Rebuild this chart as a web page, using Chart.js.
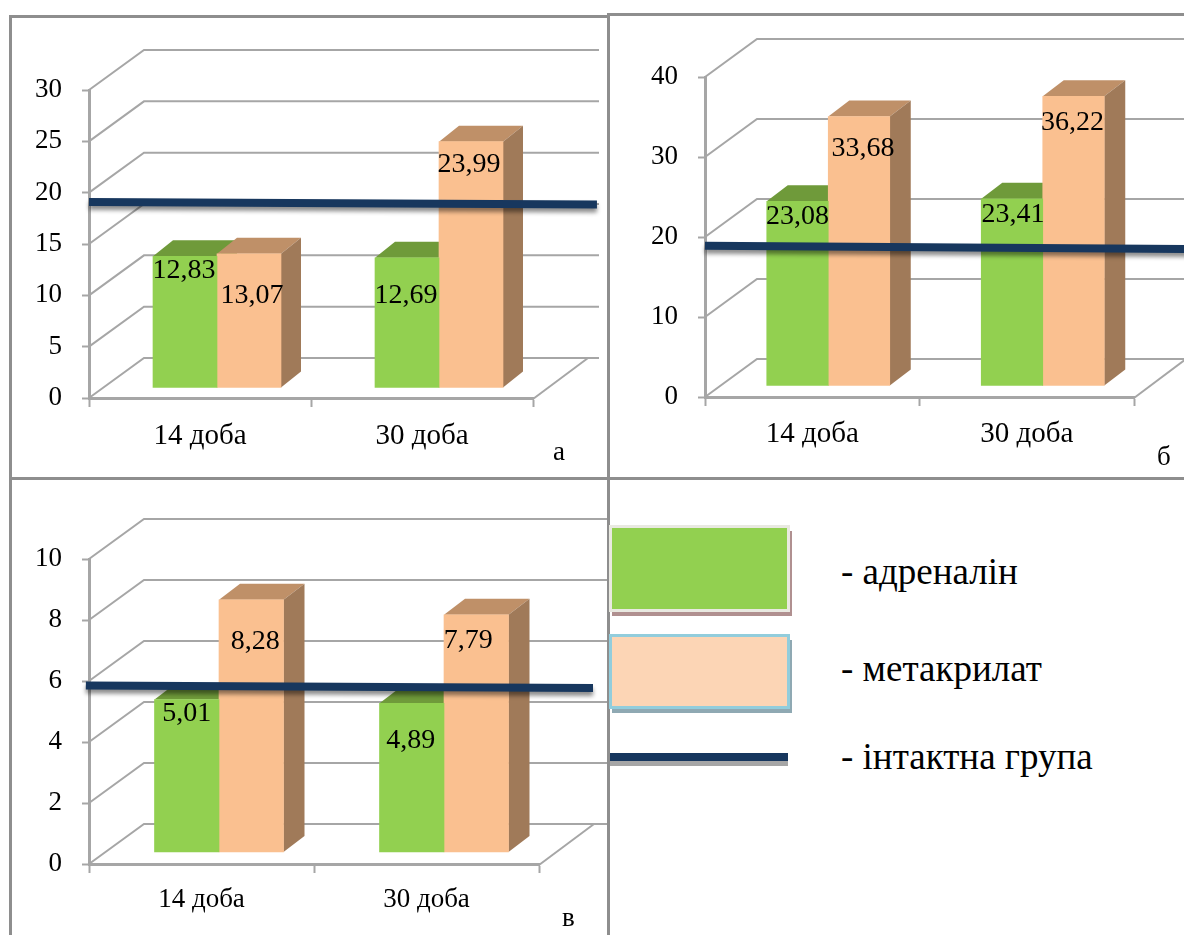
<!DOCTYPE html>
<html>
<head>
<meta charset="utf-8">
<title>Адреналін і метакрилат</title>
<script src="https://cdn.jsdelivr.net/npm/chart.js@4"></script>
<style>
html, body { margin: 0; padding: 0; background: #fff; }
body { position: relative; width: 1184px; height: 935px; overflow: hidden; font-family: "Liberation Serif", serif; color: #000; }
canvas { position: absolute; }
.rule { position: absolute; background: #8e8e8e; }
.note { position: absolute; white-space: nowrap; line-height: 30px; }
.swatch { position: absolute; box-sizing: border-box; }
</style>
</head>
<body>
<div class="rule" style="left:9px;top:15px;width:598px;height:3px"></div>
<div class="rule" style="left:607px;top:13px;width:577px;height:3px"></div>
<div class="rule" style="left:9px;top:15px;width:3px;height:920px"></div>
<div class="rule" style="left:607px;top:13px;width:3px;height:922px"></div>
<div class="rule" style="left:9px;top:477px;width:1175px;height:3px"></div>

<canvas id="panelA"></canvas>
<canvas id="panelB"></canvas>
<canvas id="panelC"></canvas>

<span class="note" style="left:553px;top:436px;font-size:27px">а</span>
<span class="note" style="left:1157px;top:441px;font-size:27px">б</span>
<span class="note" style="left:562px;top:902px;font-size:27px">в</span>

<div class="swatch" style="left:612px;top:531px;width:180px;height:85px;background:#b09090"></div>
<div class="swatch" style="left:609px;top:525px;width:181px;height:87px;background:#92d050;border:3px solid #e9e9e1"></div>
<div class="swatch" style="left:612px;top:640px;width:180px;height:73px;background:#8fa9b3"></div>
<div class="swatch" style="left:609px;top:634px;width:181px;height:75px;background:#fcd5b5;border:3px solid #92cddc"></div>
<div class="swatch" style="left:610px;top:757px;width:178px;height:9px;background:#a6a6a6"></div>
<div class="swatch" style="left:610px;top:753px;width:178px;height:8px;background:#17375e"></div>
<span class="note" style="left:841px;top:557px;font-size:37px">- адреналін</span>
<span class="note" style="left:841px;top:654px;font-size:37px">- метакрилат</span>
<span class="note" style="left:841px;top:742px;font-size:37px">- інтактна група</span>

<script>
var days = ["14 доба", "30 доба"];

//panel a
var adrenalinA = [12.83, 12.69];
var methacrylateA = [13.07, 23.99];
var intactA = [19.1, 18.85];
var intactSpanA = [-0.5, 1.788];
var ticksStepA = 5, ticksMaxA = 30;

//panel b
var adrenalinB = [23.08, 23.41];
var methacrylateB = [33.68, 36.22];
var intactB = [18.9, 18.5];
var intactSpanB = [-0.5, 1.78];
var ticksStepB = 10, ticksMaxB = 40;

//panel c
var adrenalinC = [5.01, 4.89];
var methacrylateC = [8.28, 7.79];
var intactC = [5.85, 5.77];
var intactSpanC = [-0.514, 1.74];
var ticksStepC = 2, ticksMaxC = 10;

var GRID = "#a6a6a6", NAVY = "#17375e";
var FRONT = ["#92d050", "#fac090"];
var TOPS = ["#6f9a3a", "#bf9068"];
var SIDES = ["#6a8f36", "#a07a59"];

//draws the back wall, the floor and the depth faces of the bars
var boxPlugin = {
	id: "box3d",
	beforeDatasetsDraw: function( chart, args, opts ){
		var ctx = chart.ctx, yScale = chart.scales.y, area = chart.chartArea;
		ctx.save();
		ctx.strokeStyle = GRID;
		ctx.lineWidth = 2;
		yScale.ticks.forEach( function( tick ){
			var y = yScale.getPixelForValue( tick.value );
			ctx.beginPath();
			ctx.moveTo( area.left, y );
			ctx.lineTo( area.left + opts.wallX, y + opts.wallY );
			ctx.lineTo( opts.wallEnd, y + opts.wallY );
			ctx.stroke();
		});
		ctx.beginPath();
		ctx.moveTo( area.right, area.bottom + 1 );
		ctx.lineTo( area.right + opts.wallX, area.bottom + opts.wallY );
		ctx.stroke();

		//tops and sides go first, the library paints the fronts over them
		[0, 1].forEach( function( d ){
			chart.getDatasetMeta( d ).data.forEach( function( bar ){
				var left = bar.x - bar.width / 2 + opts.shiftX;
				var right = bar.x + bar.width / 2 + opts.shiftX;
				var top = bar.y + opts.shiftY, base = bar.base + opts.shiftY;
				ctx.fillStyle = TOPS[d];
				ctx.beginPath();
				ctx.moveTo( left, top );
				ctx.lineTo( left + opts.barX, top + opts.barY );
				ctx.lineTo( right + opts.barX, top + opts.barY );
				ctx.lineTo( right, top );
				ctx.closePath();
				ctx.fill();
				ctx.fillStyle = SIDES[d];
				ctx.beginPath();
				ctx.moveTo( right, top );
				ctx.lineTo( right + opts.barX, top + opts.barY );
				ctx.lineTo( right + opts.barX, base + opts.barY );
				ctx.lineTo( right, base );
				ctx.closePath();
				ctx.fill();
			});
		});
		ctx.restore();
	},
	beforeDatasetDraw: function( chart, args, opts ){
		var ctx = chart.ctx;
		ctx.save();
		if( args.meta.type == "bar" ){
			ctx.translate( opts.shiftX, opts.shiftY );
		} else {
			ctx.shadowColor = "rgba(0,0,0,0.45)";
			ctx.shadowBlur = 4;
			ctx.shadowOffsetY = 4;
		}
	},
	afterDatasetDraw: function( chart ){
		chart.ctx.restore();
	},
	//value labels sit inside the bars, moved off the top edge by labelDrop
	afterDatasetsDraw: function( chart, args, opts ){
		var ctx = chart.ctx;
		ctx.save();
		ctx.fillStyle = "#000";
		ctx.font = "28px 'Liberation Serif'";
		ctx.textAlign = "center";
		ctx.textBaseline = "middle";
		[0, 1].forEach( function( d ){
			chart.getDatasetMeta( d ).data.forEach( function( bar, i ){
				var value = chart.data.datasets[d].data[i];
				var nudge = opts.labelNudge[d][i], drop = opts.labelDrop[d][i];
				ctx.fillText( value.toFixed(2).replace( ".", "," ), bar.x + opts.shiftX + nudge, bar.y + opts.shiftY + drop );
			});
		});
		ctx.restore();
	}
};

var buildPanel = function( id, place, adrenalin, methacrylate, intact, span, step, max ){
	var canvas = document.getElementById( id );
	canvas.width = place.width;
	canvas.height = place.height;
	canvas.style.left = place.left + "px";
	canvas.style.top = place.top + "px";

	return new Chart( canvas.getContext('2d'), {
		type: 'bar',
		plugins: [boxPlugin],
		data: {
			labels: days,
			datasets: [{
				label: "адреналін",
				backgroundColor: FRONT[0],
				data: adrenalin,
				clip: false
			},{
				label: "метакрилат",
				backgroundColor: FRONT[1],
				data: methacrylate,
				clip: false
			},{
				//x here is a fractional category position, so the line can run past the axis
				type: 'line',
				label: "інтактна група",
				order: -1,
				parsing: false,
				borderColor: NAVY,
				borderWidth: 8,
				pointRadius: 0,
				clip: false,
				data: intact.map( function( v, i ){ return { x: span[i], y: v }; } )
			}]
		},
		options: {
			responsive: false,
			animation: false,
			events: [],
			layout: { padding: { top: place.axisTop - place.top, right: place.left + place.width - place.axisRight } },
			datasets: { bar: { barThickness: place.barWidth, borderWidth: 0 } },
			plugins: {
				legend: { display: false },
				tooltip: { enabled: false },
				box3d: place.box
			},
			scales: {
				x: {
					offset: true,
					afterFit: function( scale ){ scale.height = place.top + place.height - place.axisBottom; },
					border: { color: GRID, width: 3 },
					grid: { drawOnChartArea: false, drawTicks: true, tickLength: 9, tickWidth: 2, color: GRID, offset: true },
					ticks: { color: "#000", padding: place.labelGap, font: { family: "Liberation Serif", size: place.daySize }, maxRotation: 0 }
				},
				y: {
					min: 0,
					max: max,
					afterFit: function( scale ){ scale.width = place.axisX - place.left; },
					border: { color: GRID, width: 3 },
					grid: { drawOnChartArea: false, drawTicks: true, tickLength: 7, tickWidth: 2, color: GRID },
					ticks: { stepSize: step, color: "#000", padding: 20, font: { family: "Liberation Serif", size: place.tickSize } }
				}
			}
		}
	});
};

buildPanel( "panelA", {
	left: 12, top: 18, width: 595, height: 459,
	axisX: 89, axisRight: 533, axisTop: 90, axisBottom: 398,
	barWidth: 64, labelGap: 12, daySize: 29, tickSize: 27,
	box: {
		wallX: 55, wallY: -40, wallEnd: 587, shiftX: 17, shiftY: -10, barX: 20, barY: -16,
		labelNudge: [[-1, -1], [3, -2]],
		labelDrop: [[14, 38], [42, 23]]
	}
}, adrenalinA, methacrylateA, intactA, intactSpanA, ticksStepA, ticksMaxA );

buildPanel( "panelB", {
	left: 610, top: 16, width: 574, height: 461,
	axisX: 705, axisRight: 1134, axisTop: 77, axisBottom: 397,
	barWidth: 61.5, labelGap: 11, daySize: 29, tickSize: 27,
	box: {
		wallX: 52, wallY: -38, wallEnd: 1184, shiftX: 16, shiftY: -11, barX: 21, barY: -16,
		labelNudge: [[0, 1], [4, -1]],
		labelDrop: [[15, 16], [32, 26]]
	}
}, adrenalinB, methacrylateB, intactB, intactSpanB, ticksStepB, ticksMaxB );

buildPanel( "panelC", {
	left: 12, top: 480, width: 595, height: 455,
	axisX: 89, axisRight: 539, axisTop: 559, axisBottom: 864,
	barWidth: 64.5, labelGap: 11, daySize: 27, tickSize: 27,
	box: {
		wallX: 55, wallY: -40, wallEnd: 596, shiftX: 17.5, shiftY: -11.6, barX: 21, barY: -16,
		labelNudge: [[0, -1], [4, -8]],
		labelDrop: [[14, 37], [42, 26]]
	}
}, adrenalinC, methacrylateC, intactC, intactSpanC, ticksStepC, ticksMaxC );
</script>
</body>
</html>
